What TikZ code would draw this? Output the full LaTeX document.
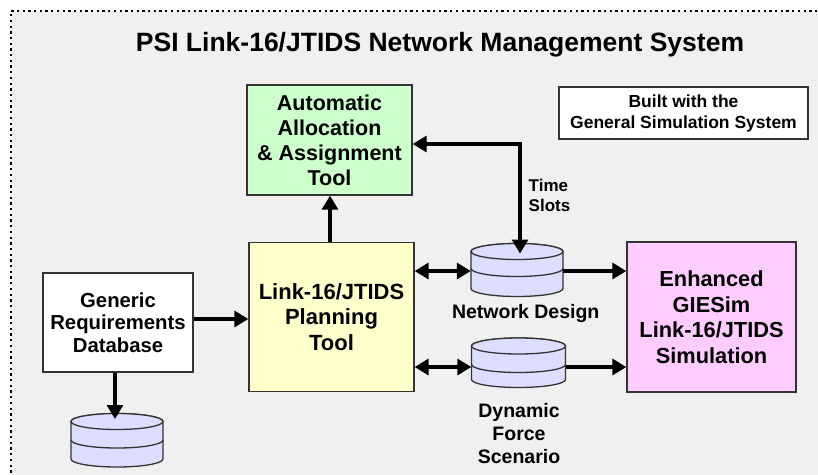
\documentclass[tikz,border=0pt]{standalone}
\usepackage{fontspec}
\setmainfont{Liberation Sans}
\usetikzlibrary{arrows.meta}
\definecolor{bggray}{HTML}{F0F0F0}
\definecolor{grnfill}{HTML}{CCFFCC}
\definecolor{yelfill}{HTML}{FFFFCC}
\definecolor{pinkfill}{HTML}{FFCCFF}
\definecolor{cylcol}{HTML}{DDDDFF}
\definecolor{edgecol}{HTML}{333333}
\newcommand{\dbcyl}[6]{%
  \filldraw[cylbody] (#2-#6,#3) -- (#2-#6,#5) arc[start angle=180,end angle=360,x radius=#6pt,y radius=8pt] -- (#2+#6,#3) arc[start angle=0,end angle=180,x radius=#6pt,y radius=8pt] -- cycle;
  \draw[cylbody] (#2,#3) ellipse[x radius=#6pt,y radius=8pt];
  \draw[cylbody] (#2-#6,#4) arc[start angle=180,end angle=360,x radius=#6pt,y radius=8pt];
  \node[inner sep=0pt, minimum width=2*#6pt, minimum height=20pt] (#1) at (#2,#4+2.5) {};
  \coordinate (#1-top) at (#2,#3+2);
}
\begin{document}
\begin{tikzpicture}[x=1pt,y=-1pt,
  box/.style={draw=edgecol, line width=1.3pt, align=center, inner sep=2pt, font=\bfseries},
  cylbody/.style={draw=edgecol, fill=cylcol, line width=1.3pt},
  conn/.style={line width=3.2pt, -{Triangle[length=14pt,width=16pt]}},
  conntwo/.style={line width=3.2pt, {Triangle[length=14pt,width=16pt]}-{Triangle[length=14pt,width=16pt]}},
  lbl/.style={inner sep=0pt, font=\bfseries},
  frame/.style={line width=2.3pt, dash pattern=on 2.3pt off 3.4pt}]
\useasboundingbox (0,0) rectangle (818,474);
\clip (0,0) rectangle (818,474);
\fill[bggray] (11,11) rectangle (840,500);
\draw[frame] (840,11) -- (11,11) -- (11,500);

\node[lbl, font=\fontsize{26.5}{30}\selectfont\bfseries] (title) at (440,45) {PSI Link-16/JTIDS Network Management System};

\node[box, fill=grnfill, minimum width=165pt, minimum height=110pt, font=\fontsize{21.5}{25}\selectfont\bfseries] (grn) at (329.5,140) {Automatic\\Allocation\\\& Assignment\\Tool};
\node[box, fill=white, minimum width=249pt, minimum height=52pt, font=\fontsize{17.5}{21}\selectfont\bfseries] (built) at (683.5,113) {Built with the\\General Simulation System};
\node[box, fill=yelfill, minimum width=165pt, minimum height=149.5pt, font=\fontsize{22}{25.5}\selectfont\bfseries] (yel) at (331.5,317) {Link-16/JTIDS\\Planning\\Tool};
\node[box, fill=pinkfill, minimum width=169pt, minimum height=150pt, font=\fontsize{21.8}{25.5}\selectfont\bfseries] (pink) at (711.5,317) {Enhanced\\GIESim\\Link-16/JTIDS\\Simulation};
\node[box, fill=white, minimum width=150pt, minimum height=99pt, font=\fontsize{20.3}{22.5}\selectfont\bfseries] (gen) at (118,322.5) {Generic\\Requirements\\Database};

\dbcyl{nd}{517}{251.5}{268.5}{288.5}{46}
\dbcyl{df}{518.5}{346}{364.5}{379.5}{47}
\dbcyl{bl}{117}{421.5}{440}{459}{46}

\node[lbl, align=left, font=\fontsize{17}{20}\selectfont\bfseries] (ts) at (549.5,195) {Time\\Slots};
\node[lbl, font=\fontsize{19.5}{22.7}\selectfont\bfseries] (ndl) at (525.7,313) {Network Design};
\node[lbl, align=center, font=\fontsize{19.5}{22.7}\selectfont\bfseries] (dfl) at (519,433.5) {Dynamic\\Force\\Scenario};

\coordinate (tsc) at (520,144);
\coordinate (gbl) at (115,419);
\draw[conn] (yel.north -| 330,0) -- (grn.south -| 330,0);
\draw[conntwo, line join=miter] (grn.east |- tsc) -- (tsc) -- (tsc |- nd-top);
\draw[conntwo] (nd.west -| yel.east) -- (nd.west);
\draw[conntwo] (df.west -| yel.east) -- (df.west);
\draw[conn] (nd.east) -- (nd.east -| pink.west);
\draw[conn] (df.east) -- (df.east -| pink.west);
\draw[conn] ([yshift=3.5pt]gen.east) -- ([yshift=3.5pt]gen.east -| yel.west);
\draw[conn] (gen.south -| gbl) -- (gbl);
\end{tikzpicture}
\end{document}
